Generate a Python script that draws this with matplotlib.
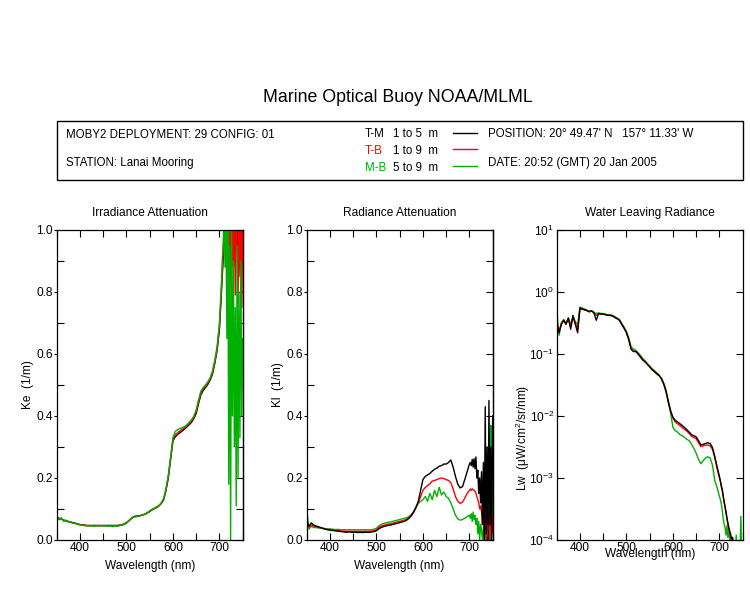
import numpy as np
import matplotlib
matplotlib.use("Agg")
import matplotlib.pyplot as plt
from matplotlib.patches import Rectangle
from matplotlib.ticker import MultipleLocator, FixedLocator, NullLocator, FuncFormatter

plt.rcParams["font.family"] = ["Liberation Sans", "DejaVu Sans"]
plt.rcParams["mathtext.default"] = "regular"

# ── Data ─────────────────────────────────────────────────────────────────────
# sample grid: 5 nm steps to 700 nm, then 2 nm steps to 750 nm
wl = np.r_[350:701:5, 702:751:2]

# Irradiance attenuation Ke (1/m)
ke_tm = [0.075, 0.070, 0.068, 0.064, 0.062, 0.060, 0.058, 0.056, 0.054, 0.052,
         0.050, 0.049, 0.048, 0.047, 0.047, 0.047, 0.047, 0.047, 0.047, 0.047,
         0.047, 0.047, 0.047, 0.047, 0.047, 0.047, 0.047, 0.048, 0.049, 0.052,
         0.056, 0.062, 0.069, 0.075, 0.077, 0.078, 0.079, 0.081, 0.083, 0.087,
         0.092, 0.097, 0.101, 0.105, 0.110, 0.118, 0.130, 0.160, 0.200, 0.260,
         0.320, 0.333, 0.340, 0.346, 0.352, 0.358, 0.365, 0.372, 0.380, 0.392,
         0.408, 0.440, 0.468, 0.482, 0.492, 0.502, 0.516, 0.535, 0.570, 0.612,
         0.680,
         0.735, 0.790, 0.850, 0.905, 0.940, 1.000, 0.985, 1.050, 0.960, 1.080,
         0.920, 1.060, 0.880, 1.100, 0.950, 1.040, 0.900, 1.080, 0.940, 0.980,
         1.050, 0.900, 1.100, 0.950, 1.020]
ke_tb = [0.074, 0.069, 0.067, 0.064, 0.061, 0.059, 0.057, 0.055, 0.053, 0.051,
         0.049, 0.048, 0.047, 0.046, 0.046, 0.046, 0.046, 0.046, 0.046, 0.046,
         0.046, 0.046, 0.046, 0.046, 0.046, 0.046, 0.046, 0.047, 0.048, 0.051,
         0.055, 0.061, 0.068, 0.074, 0.076, 0.077, 0.079, 0.081, 0.084, 0.088,
         0.093, 0.098, 0.102, 0.106, 0.111, 0.119, 0.132, 0.162, 0.205, 0.265,
         0.325, 0.340, 0.346, 0.352, 0.357, 0.362, 0.369, 0.376, 0.384, 0.396,
         0.414, 0.446, 0.474, 0.488, 0.497, 0.507, 0.520, 0.540, 0.575, 0.618,
         0.690,
         0.745, 0.805, 0.865, 0.925, 0.960, 1.020, 0.930, 1.050, 0.860, 1.100,
         0.820, 1.050, 0.770, 1.100, 0.880, 1.050, 0.790, 1.100, 0.930, 0.760,
         1.080, 0.850, 1.100, 0.750, 1.000]
ke_mb = [0.078, 0.065, 0.072, 0.060, 0.064, 0.058, 0.059, 0.053, 0.055, 0.050,
         0.049, 0.048, 0.046, 0.046, 0.045, 0.046, 0.044, 0.046, 0.045, 0.046,
         0.045, 0.046, 0.044, 0.045, 0.043, 0.045, 0.044, 0.046, 0.048, 0.050,
         0.054, 0.062, 0.070, 0.073, 0.075, 0.076, 0.078, 0.080, 0.084, 0.088,
         0.094, 0.099, 0.103, 0.107, 0.112, 0.120, 0.134, 0.165, 0.208, 0.268,
         0.330, 0.350, 0.356, 0.360, 0.362, 0.366, 0.372, 0.380, 0.388, 0.400,
         0.420, 0.452, 0.480, 0.492, 0.500, 0.510, 0.523, 0.545, 0.580, 0.625,
         0.700,
         0.760, 0.820, 0.900, 0.960, 1.050, 0.880, 1.020, 0.650, 1.050, 0.180,
         0.950, 0.000, 1.000, 0.400, 0.900, 0.300, 0.750, 0.110, 0.950, 0.200,
         0.800, 0.330, 0.900, 0.400, 0.650]

# Radiance attenuation Kl (1/m)
kl_tm = [0.060, 0.045, 0.055, 0.048, 0.045, 0.043, 0.040, 0.038, 0.035, 0.033,
         0.032, 0.031, 0.030, 0.029, 0.028, 0.027, 0.026, 0.025, 0.026, 0.025,
         0.025, 0.025, 0.024, 0.025, 0.024, 0.025, 0.025, 0.025, 0.026, 0.027,
         0.030, 0.036, 0.040, 0.043, 0.045, 0.047, 0.048, 0.050, 0.052, 0.054,
         0.056, 0.058, 0.060, 0.064, 0.070, 0.078, 0.090, 0.105, 0.125, 0.160,
         0.195, 0.205, 0.210, 0.215, 0.222, 0.228, 0.232, 0.238, 0.240, 0.245,
         0.245, 0.250, 0.258, 0.235, 0.205, 0.180, 0.168, 0.172, 0.195, 0.220,
         0.245,
         0.250, 0.240, 0.260, 0.235, 0.262, 0.230, 0.268, 0.200, 0.225, 0.150,
         0.200, 0.120, 0.220, 0.050, 0.250, 0.000, 0.430, 0.020, 0.300, 0.000,
         0.450, 0.050, 0.300, 0.000, 0.400]
kl_tb = [0.050, 0.042, 0.048, 0.045, 0.043, 0.041, 0.039, 0.037, 0.035, 0.034,
         0.033, 0.032, 0.031, 0.030, 0.030, 0.029, 0.029, 0.028, 0.028, 0.028,
         0.028, 0.028, 0.028, 0.028, 0.028, 0.028, 0.028, 0.028, 0.029, 0.030,
         0.033, 0.040, 0.045, 0.047, 0.049, 0.051, 0.052, 0.054, 0.056, 0.058,
         0.060, 0.062, 0.064, 0.067, 0.072, 0.080, 0.090, 0.105, 0.120, 0.140,
         0.160, 0.170, 0.175, 0.182, 0.190, 0.192, 0.195, 0.198, 0.200, 0.198,
         0.195, 0.192, 0.185, 0.165, 0.140, 0.125, 0.118, 0.122, 0.135, 0.150,
         0.160,
         0.165, 0.160, 0.165, 0.162, 0.160, 0.158, 0.150, 0.140, 0.130, 0.120,
         0.100, 0.110, 0.090, 0.050, 0.100, 0.020, 0.120, 0.000, 0.140, 0.050,
         0.090, 0.000, 0.150, 0.020, 0.080]
kl_mb = [0.100, 0.035, 0.045, 0.040, 0.040, 0.039, 0.038, 0.037, 0.037, 0.036,
         0.036, 0.035, 0.034, 0.034, 0.034, 0.033, 0.033, 0.033, 0.033, 0.033,
         0.033, 0.033, 0.033, 0.033, 0.033, 0.033, 0.033, 0.033, 0.033, 0.035,
         0.038, 0.045, 0.050, 0.053, 0.055, 0.057, 0.058, 0.060, 0.062, 0.064,
         0.066, 0.068, 0.070, 0.072, 0.076, 0.082, 0.092, 0.105, 0.118, 0.125,
         0.130, 0.140, 0.125, 0.150, 0.130, 0.160, 0.140, 0.170, 0.145, 0.155,
         0.140, 0.135, 0.120, 0.100, 0.080, 0.068, 0.064, 0.066, 0.070, 0.075,
         0.080,
         0.070, 0.085, 0.060, 0.090, 0.065, 0.080, 0.050, 0.070, 0.020, 0.060,
         0.000, 0.050, 0.030, 0.000, 0.040, 0.000, 0.020, 0.000, 0.010, 0.000,
         0.030, 0.000, 0.370, 0.300, 0.020]

# Water leaving radiance Lw (uW/cm^2/sr/nm)
lw_tm = [0.30, 0.22, 0.30, 0.35, 0.30, 0.38, 0.25, 0.42, 0.30, 0.22,
         0.55, 0.53, 0.52, 0.50, 0.48, 0.50, 0.46, 0.35, 0.45, 0.44,
         0.44, 0.43, 0.42, 0.42, 0.41, 0.39, 0.37, 0.35, 0.30, 0.26,
         0.22, 0.17, 0.12, 0.11, 0.11, 0.10, 0.090, 0.080, 0.075, 0.068,
         0.062, 0.056, 0.052, 0.048, 0.045, 0.040, 0.033, 0.025, 0.017, 0.012,
         0.0095, 0.0085, 0.0080, 0.0075, 0.0070, 0.0065, 0.0060, 0.0055, 0.0050, 0.0048,
         0.0046, 0.0040, 0.0034, 0.0035, 0.0036, 0.0037, 0.0036, 0.0031, 0.0022, 0.0015,
         0.00105,
         0.00090, 0.00075, 0.00065, 0.00052, 0.00042, 0.00035, 0.00029, 0.00023, 0.00019, 0.00016,
         0.00014, 0.00012, 0.000105, 0.00011, 0.00009, 0.00008, 0.00006, 0.00005, 0.00004, 0.00004,
         0.00003, 0.00003, 0.00003, 0.00003, 0.00003]
lw_tb = [0.32, 0.24, 0.31, 0.35, 0.31, 0.37, 0.28, 0.40, 0.31, 0.26,
         0.54, 0.53, 0.51, 0.50, 0.48, 0.49, 0.46, 0.42, 0.45, 0.44,
         0.44, 0.43, 0.42, 0.42, 0.41, 0.39, 0.37, 0.35, 0.30, 0.26,
         0.22, 0.17, 0.12, 0.11, 0.11, 0.10, 0.090, 0.080, 0.075, 0.068,
         0.062, 0.056, 0.052, 0.048, 0.045, 0.040, 0.033, 0.025, 0.017, 0.012,
         0.0092, 0.0080, 0.0075, 0.0070, 0.0065, 0.0061, 0.0057, 0.0052, 0.0047, 0.0045,
         0.0043, 0.0037, 0.0032, 0.0033, 0.0034, 0.0034, 0.0033, 0.0029, 0.0021, 0.0014,
         0.00100,
         0.00086, 0.00072, 0.00062, 0.00050, 0.00040, 0.00033, 0.00027, 0.00022, 0.00018, 0.00015,
         0.00013, 0.00011, 0.00010, 0.00009, 0.00008, 0.00007, 0.00005, 0.00004, 0.00004, 0.00003,
         0.00003, 0.00003, 0.00003, 0.00003, 0.00003]
lw_mb = [0.50, 0.20, 0.32, 0.36, 0.31, 0.38, 0.30, 0.40, 0.33, 0.30,
         0.57, 0.55, 0.53, 0.51, 0.49, 0.50, 0.47, 0.45, 0.46, 0.45,
         0.45, 0.44, 0.43, 0.43, 0.42, 0.40, 0.38, 0.36, 0.31, 0.27,
         0.23, 0.18, 0.13, 0.12, 0.115, 0.105, 0.095, 0.085, 0.078, 0.070,
         0.064, 0.058, 0.054, 0.050, 0.046, 0.041, 0.034, 0.026, 0.017, 0.011,
         0.0065, 0.0058, 0.0055, 0.0050, 0.0048, 0.0045, 0.0042, 0.0040, 0.0035, 0.0030,
         0.0025, 0.0020, 0.0017, 0.0019, 0.0021, 0.0022, 0.0021, 0.0016, 0.0009, 0.0007,
         0.00050,
         0.00045, 0.00038, 0.00030, 0.00022, 0.00018, 0.00016, 0.00012, 0.00017, 0.00011, 0.00015,
         0.00010, 0.00013, 0.00008, 0.00011, 0.00007, 0.00009, 0.00006, 0.00012, 0.00005, 0.00008,
         0.00005, 0.00006, 0.00024, 0.00005, 0.00004]

# legend rows: label, depth range
pair_labels = ["T-M", "T-B", "M-B"]
pair_ranges = ["1 to 5  m", "1 to 9  m", "5 to 9  m"]

BLACK, RED, GREEN = "#000000", "#ff0000", "#00b000"
FS = 8.6

# ── Figure ───────────────────────────────────────────────────────────────────
fig = plt.figure(figsize=(7.5, 6), dpi=100)

fig.text(0.531, 0.8367, "Marine Optical Buoy NOAA/MLML", fontsize=12.8,
         ha="center", va="center")

# header box
fig.patches.append(Rectangle((0.0756, 0.700), 0.9151, 0.0988, transform=fig.transFigure,
                             fill=False, edgecolor="black", linewidth=1.0))
fig.text(0.0876, 0.775, "MOBY2 DEPLOYMENT: 29 CONFIG: 01", fontsize=8.3, va="center")
fig.text(0.0876, 0.7288, "STATION: Lanai Mooring", fontsize=8.3, va="center")
fig.text(0.651, 0.7767, "POSITION: 20\u00b0 49.47' N   157\u00b0 11.33' W", fontsize=8.3, va="center")
fig.text(0.651, 0.729, "DATE: 20:52 (GMT) 20 Jan 2005", fontsize=8.3, va="center")

row_y = [0.7767, 0.7489, 0.7206]
for lab, rng, col, y in zip(pair_labels, pair_ranges, [BLACK, RED, GREEN], row_y):
    fig.text(0.4867, y, lab, fontsize=8.3, color=col, va="center")
    fig.text(0.524, y, rng, fontsize=8.3, va="center")
    fig.add_artist(plt.Line2D([0.604, 0.636], [y + 0.002, y + 0.002],
                              transform=fig.transFigure, color=col, linewidth=1.0))

# ── Panels ───────────────────────────────────────────────────────────────────
lefts = [0.0756, 0.4089, 0.7423]
axes = [fig.add_axes([l, 0.1, 0.248, 0.5167]) for l in lefts]


def style(ax, title, ylabel):
    ax.set_xlim(350, 750)
    ax.xaxis.set_major_locator(FixedLocator([400, 500, 600, 700]))
    ax.xaxis.set_minor_locator(FixedLocator([350, 450, 550, 650, 750]))
    ax.tick_params(which="both", direction="in", top=True, right=True,
                   length=5, width=0.8, labelsize=FS)
    ax.tick_params(axis="x", which="both", pad=1.5)
    ax.tick_params(axis="y", which="both", pad=2)
    ax.set_title(title, fontsize=FS, pad=10)
    ax.set_xlabel("Wavelength (nm)", fontsize=FS)
    ax.set_ylabel(ylabel, fontsize=FS)
    ax.xaxis.set_label_coords(0.5, -0.064)
    ax.yaxis.set_label_coords(-0.12, 0.5)
    for s in ax.spines.values():
        s.set_linewidth(0.9)


ax1, ax2, ax3 = axes

ax1.plot(wl, ke_tm, color=BLACK, lw=1.0)
ax1.plot(wl, ke_tb, color=RED, lw=1.0)
ax1.plot(wl, ke_mb, color=GREEN, lw=1.0)
style(ax1, "Irradiance Attenuation", "Ke  (1/m)")

ax2.plot(wl, kl_mb, color=GREEN, lw=1.0)
ax2.plot(wl, kl_tb, color=RED, lw=1.0)
ax2.plot(wl, kl_tm, color=BLACK, lw=1.0)
style(ax2, "Radiance Attenuation", "Kl  (1/m)")

for ax in (ax1, ax2):
    ax.set_ylim(0, 1)
    ax.yaxis.set_major_locator(MultipleLocator(0.2))
    ax.yaxis.set_minor_locator(MultipleLocator(0.1))
    ax.yaxis.set_major_formatter(FuncFormatter(lambda v, p: f"{v:.1f}"))
    # left: short outward majors, inward minors; right: inward every 0.1
    ax.tick_params(axis="y", which="major", direction="out", length=2.5,
                   right=False, pad=0.5)
    ax.tick_params(axis="y", which="minor", direction="in", length=5, right=False)
    sec = ax.secondary_yaxis("right")
    sec.yaxis.set_major_locator(MultipleLocator(0.1))
    sec.yaxis.set_minor_locator(NullLocator())
    sec.tick_params(direction="in", length=5, width=0.8, labelright=False)
    sec.spines["right"].set_linewidth(0.9)

ax3.plot(wl, lw_mb, color=GREEN, lw=1.0)
ax3.plot(wl, lw_tb, color=RED, lw=1.0)
ax3.plot(wl, lw_tm, color=BLACK, lw=1.0)
ax3.set_yscale("log")
ax3.set_ylim(1e-4, 1e1)
style(ax3, "Water Leaving Radiance", "Lw  (\u03bcW/cm$^2$/sr/nm)")
ax3.yaxis.set_major_locator(FixedLocator([1e-4, 1e-3, 1e-2, 1e-1, 1e0, 1e1]))
ax3.yaxis.set_minor_locator(NullLocator())
ax3.yaxis.set_major_formatter(FuncFormatter(
    lambda v, p: r"$10^{%d}$" % int(round(np.log10(v)))))
ax3.xaxis.set_label_coords(0.5, -0.027)
ax3.yaxis.set_label_coords(-0.135, 0.33)

fig.savefig("out.png", dpi=100)
